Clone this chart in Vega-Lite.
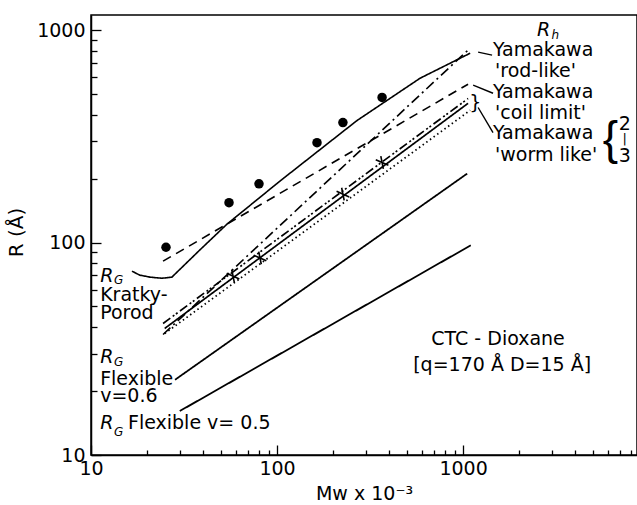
{
  "$schema": "https://vega.github.io/schema/vega-lite/v6.json",
  "width": 546,
  "height": 440,
  "autosize": {"type": "none"},
  "padding": {"left": 91, "top": 15, "right": 0, "bottom": 50},
  "background": "white",
  "config": {
    "font": "DejaVu Sans",
    "view": {"stroke": "black", "strokeWidth": 1.5},
    "axis": {
      "domainColor": "black",
      "domainWidth": 1.5,
      "tickColor": "black",
      "tickWidth": 1.3,
      "grid": false,
      "labelFont": "DejaVu Sans",
      "labelFontSize": 19,
      "labelColor": "black",
      "labelOverlap": false,
      "labelFlush": false,
      "titleFont": "DejaVu Sans",
      "titleFontSize": 18,
      "titleFontWeight": "normal",
      "titleColor": "black"
    }
  },
  "datasets": {
    "lines": [
      {"series": "curve", "x": 16.6, "y": 73.3},
      {"series": "curve", "x": 18.3, "y": 70.2},
      {"series": "curve", "x": 20.8, "y": 68.7},
      {"series": "curve", "x": 24.1, "y": 67.9},
      {"series": "curve", "x": 27.2, "y": 68.7},
      {"series": "curve", "x": 38.5, "y": 92.3},
      {"series": "curve", "x": 53.8, "y": 122},
      {"series": "curve", "x": 104, "y": 195},
      {"series": "curve", "x": 269, "y": 375},
      {"series": "curve", "x": 587, "y": 593},
      {"series": "curve", "x": 1092, "y": 778},
      {"series": "coil", "x": 24.4, "y": 81.7},
      {"series": "coil", "x": 1064, "y": 556},
      {"series": "rod", "x": 24.4, "y": 36.9},
      {"series": "rod", "x": 1092, "y": 822},
      {"series": "worm2", "x": 24.4, "y": 41.6},
      {"series": "worm2", "x": 1064, "y": 476},
      {"series": "kp", "x": 24.9, "y": 39.4},
      {"series": "kp", "x": 1064, "y": 452},
      {"series": "worm3", "x": 24.9, "y": 37.3},
      {"series": "worm3", "x": 1092, "y": 419},
      {"series": "flex06", "x": 28.3, "y": 22.6},
      {"series": "flex06", "x": 1052, "y": 211},
      {"series": "flex05", "x": 30, "y": 16.1},
      {"series": "flex05", "x": 1100, "y": 97}
    ],
    "dots": [
      {"x": 25.3, "y": 95},
      {"x": 55.2, "y": 154},
      {"x": 80, "y": 189},
      {"x": 164, "y": 295},
      {"x": 226, "y": 367},
      {"x": 367, "y": 482}
    ],
    "crosses": [
      {"x": 58, "y": 69.5},
      {"x": 81, "y": 84.6},
      {"x": 226, "y": 169},
      {"x": 367, "y": 238}
    ],
    "leftText": [
      {"x": 11.2, "y": 56.5, "text": "Kratky-"},
      {"x": 11.2, "y": 46.5, "text": "Porod"},
      {"x": 11.2, "y": 22.7, "text": "Flexible"},
      {"x": 11.2, "y": 18.9, "text": "v=0.6"},
      {"x": 15.8, "y": 14.2, "text": "Flexible v= 0.5"},
      {"x": 1449, "y": 804, "text": "Yamakawa"},
      {"x": 1486, "y": 640, "text": "'rod-like'"},
      {"x": 1449, "y": 509, "text": "Yamakawa"},
      {"x": 1486, "y": 405, "text": "'coil limit'"},
      {"x": 1449, "y": 326, "text": "Yamakawa"},
      {"x": 1486, "y": 259, "text": "'worm like'"}
    ],
    "centerText": [
      {"x": 1542, "y": 35.0, "text": "CTC - Dioxane"},
      {"x": 1622, "y": 26.6, "text": "[q=170 Å  D=15 Å]"},
      {"x": 7400, "y": 363, "text": "2"},
      {"x": 7400, "y": 256, "text": "3"},
      {"x": 1162, "y": 452, "text": "}"}
    ],
    "bar": [
      {"x": 7400, "y": 307, "text": "|"}
    ],
    "italicR": [
      {"x": 2500, "y": 1000, "text": "R"},
      {"x": 11.2, "y": 69.5, "text": "R"},
      {"x": 11.2, "y": 28.9, "text": "R"},
      {"x": 11.2, "y": 14.2, "text": "R"}
    ],
    "subs": [
      {"x": 2990, "y": 946, "text": "h"},
      {"x": 13.3, "y": 66.3, "text": "G"},
      {"x": 13.3, "y": 27.4, "text": "G"},
      {"x": 13.3, "y": 12.9, "text": "G"}
    ],
    "brace": [
      {"x": 6200, "y": 305, "text": "{"}
    ],
    "leaders": [
      {"x": 1205, "y": 787, "x2": 1432, "y2": 762},
      {"x": 1133, "y": 550, "x2": 1449, "y2": 504},
      {"x": 1205, "y": 432, "x2": 1449, "y2": 329}
    ]
  },
  "encoding": {
    "x": {
      "field": "x",
      "type": "quantitative",
      "scale": {"type": "log", "domain": [10, 8610], "nice": false},
      "axis": {
        "values": [10, 20, 30, 40, 50, 60, 70, 80, 90, 100, 200, 300, 400, 500, 600, 700, 800, 900, 1000, 2000, 3000, 4000, 5000, 6000, 7000, 8000],
        "labelExpr": "indexof([10, 100, 1000], datum.value) >= 0 ? '' + datum.value : ''",
        "tickSize": {"condition": {"test": "indexof([10, 100, 1000], datum.value) >= 0", "value": -10}, "value": -5},
        "labelPadding": 14,
        "title": "Mw x 10⁻³",
        "titleFontSize": 19,
        "titlePadding": 1
      }
    },
    "y": {
      "field": "y",
      "type": "quantitative",
      "scale": {"type": "log", "domain": [10, 1177], "nice": false},
      "axis": {
        "values": [10, 20, 30, 40, 50, 60, 70, 80, 90, 100, 200, 300, 400, 500, 600, 700, 800, 900, 1000],
        "labelExpr": "indexof([10, 100, 1000], datum.value) >= 0 ? '' + datum.value : ''",
        "tickSize": {"condition": {"test": "indexof([10, 100, 1000], datum.value) >= 0", "value": -10}, "value": -6},
        "labelPadding": 16,
        "title": "R (Å)",
        "titleFontSize": 20,
        "titleX": -65,
        "titleY": 217,
        "titleAngle": -90
      }
    }
  },
  "layer": [
    {
      "data": {"name": "lines"},
      "mark": {"type": "line", "color": "black"},
      "encoding": {
        "detail": {"field": "series"},
        "strokeDash": {
          "field": "series",
          "type": "nominal",
          "scale": {
            "domain": ["curve", "coil", "rod", "worm2", "kp", "worm3", "flex06", "flex05"],
            "range": [[1, 0], [9, 6], [10, 4, 2, 4], [9, 3, 2, 2, 2, 3], [1, 0], [1.5, 3], [1, 0], [1, 0]]
          },
          "legend": null
        },
        "strokeWidth": {
          "field": "series",
          "type": "nominal",
          "scale": {
            "domain": ["curve", "coil", "rod", "worm2", "kp", "worm3", "flex06", "flex05"],
            "range": [1.6, 1.8, 1.6, 1.6, 2, 1.6, 1.5, 3.2]
          },
          "legend": null
        }
      }
    },
    {
      "data": {"name": "dots"},
      "mark": {"type": "point", "shape": "circle", "filled": true, "color": "black", "opacity": 1, "size": 90}
    },
    {
      "data": {"name": "crosses"},
      "mark": {"type": "point", "shape": "M-1,-0.45L1,0.45M-0.2,-1L0.2,1", "filled": false, "color": "black", "strokeWidth": 1.6, "opacity": 1, "size": 160}
    },
    {
      "data": {"name": "leaders"},
      "mark": {"type": "rule", "color": "black", "strokeWidth": 1.4},
      "encoding": {"x2": {"field": "x2"}, "y2": {"field": "y2"}}
    },
    {
      "data": {"name": "leftText"},
      "mark": {"type": "text", "align": "left", "baseline": "middle", "fontSize": 19, "color": "black", "font": "DejaVu Sans"},
      "encoding": {"text": {"field": "text"}}
    },
    {
      "data": {"name": "centerText"},
      "mark": {"type": "text", "align": "center", "baseline": "middle", "fontSize": 19, "color": "black", "font": "DejaVu Sans"},
      "encoding": {"text": {"field": "text"}}
    },
    {
      "data": {"name": "bar"},
      "mark": {"type": "text", "align": "center", "baseline": "middle", "fontSize": 13, "color": "black", "font": "DejaVu Sans"},
      "encoding": {"text": {"field": "text"}}
    },
    {
      "data": {"name": "italicR"},
      "mark": {"type": "text", "align": "left", "baseline": "middle", "fontSize": 19, "fontStyle": "italic", "color": "black", "font": "DejaVu Sans"},
      "encoding": {"text": {"field": "text"}}
    },
    {
      "data": {"name": "subs"},
      "mark": {"type": "text", "align": "left", "baseline": "middle", "fontSize": 12, "fontStyle": "italic", "color": "black", "font": "DejaVu Sans"},
      "encoding": {"text": {"field": "text"}}
    },
    {
      "data": {"name": "brace"},
      "mark": {"type": "text", "align": "center", "baseline": "middle", "fontSize": 46, "color": "black", "font": "Liberation Sans"},
      "encoding": {"text": {"field": "text"}}
    }
  ]
}
